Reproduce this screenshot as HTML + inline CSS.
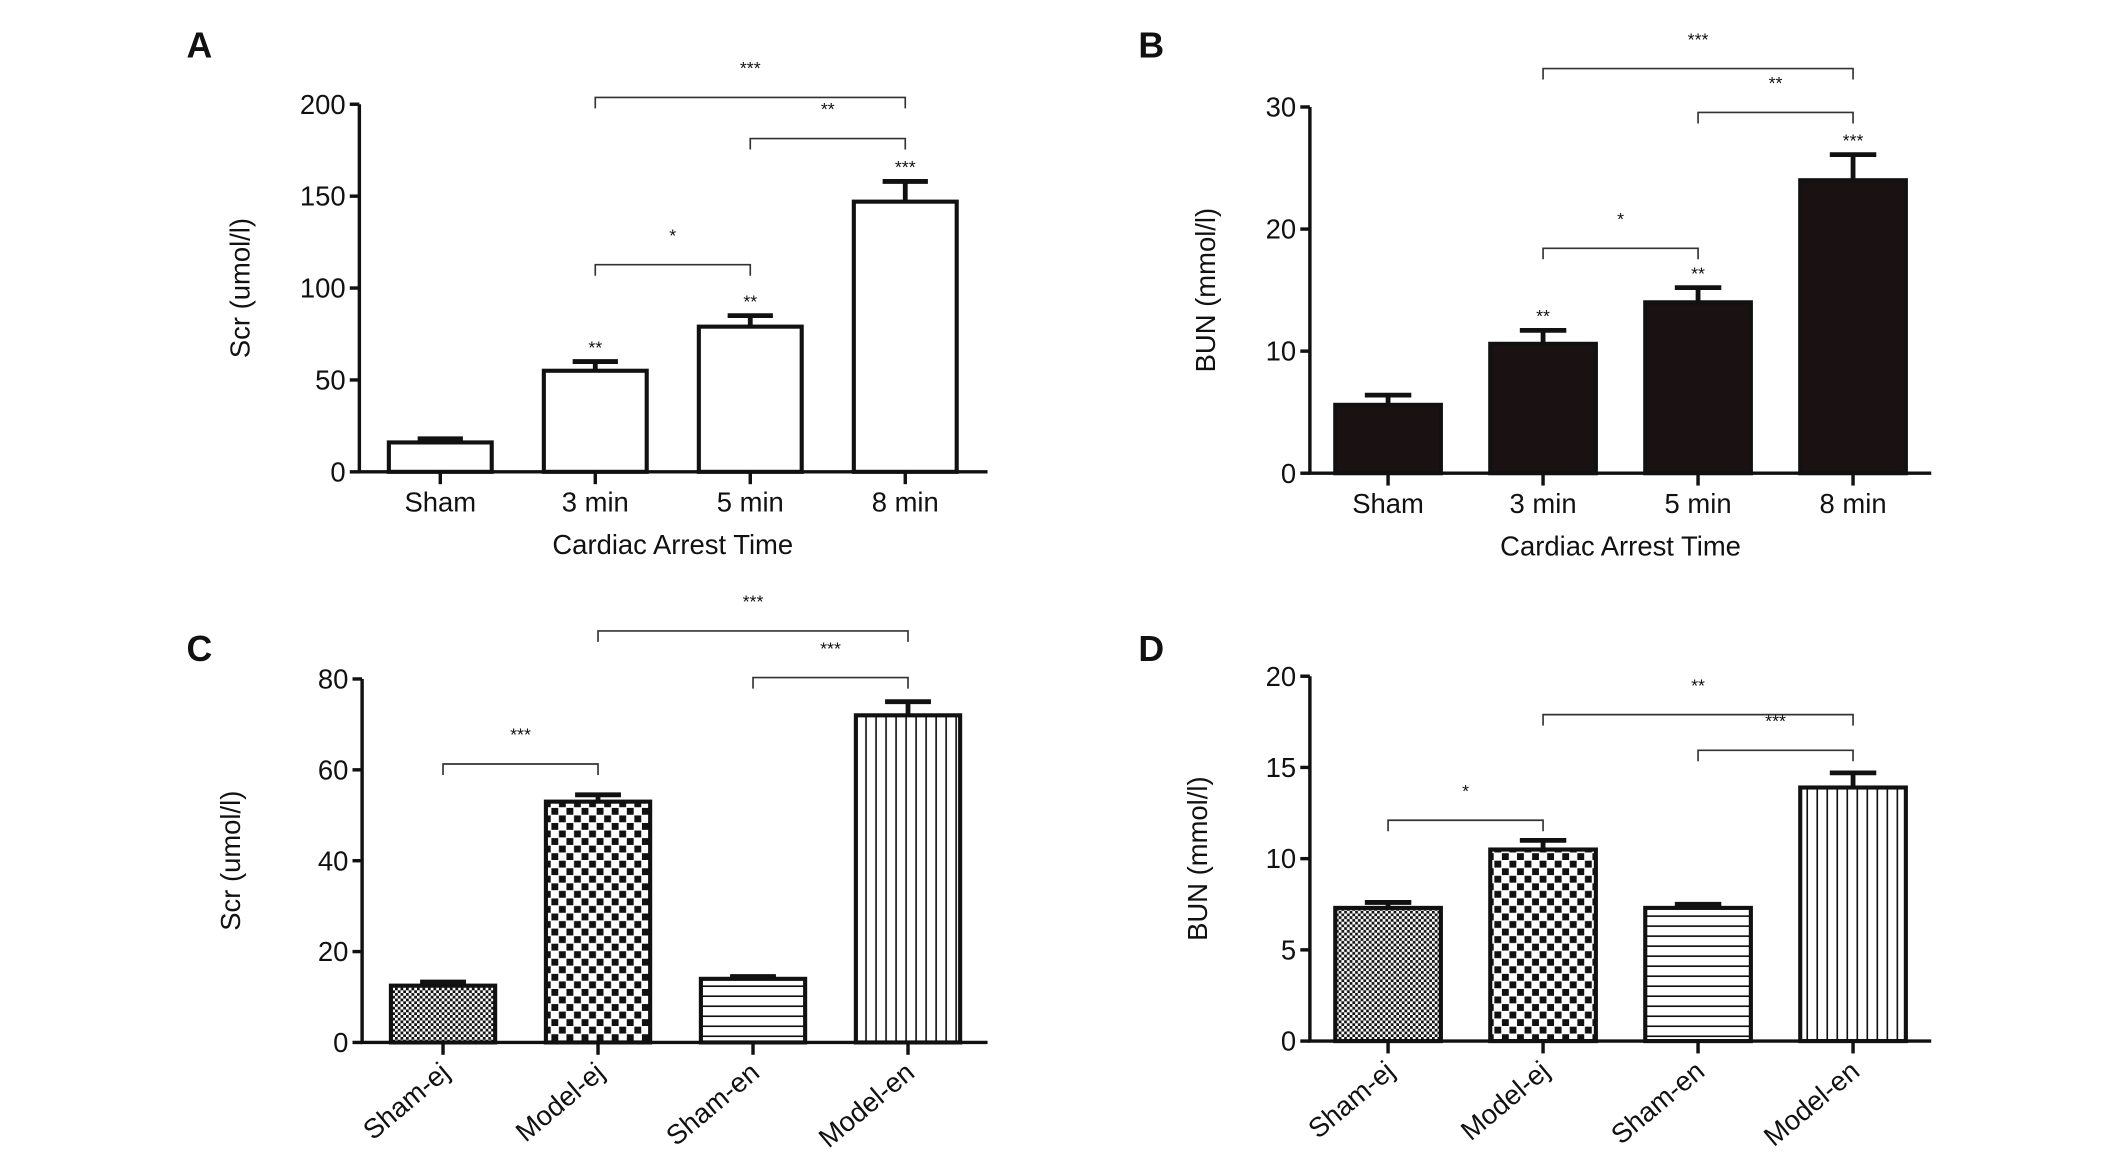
<!DOCTYPE html>
<html><head><meta charset="utf-8"><style>
html,body{margin:0;padding:0;background:#fff}
svg{display:block}
text{font-family:"Liberation Sans",Arial,sans-serif;fill:#111}
</style></head><body>
<svg id="fig" width="2126" height="1160" viewBox="0 0 1550 845.7" preserveAspectRatio="none" xmlns="http://www.w3.org/2000/svg">
<defs>
<pattern id="fineCheck" width="4" height="4" patternUnits="userSpaceOnUse"><rect width="4" height="4" fill="#fff"/><rect width="2" height="2" fill="#111"/><rect x="2" y="2" width="2" height="2" fill="#111"/></pattern>
<pattern id="coarseCheck" width="11" height="11" patternUnits="userSpaceOnUse"><rect width="11" height="11" fill="#fff"/><rect x="0.5" y="0.5" width="5" height="5" fill="#111"/><rect x="6" y="6" width="5" height="5" fill="#111"/></pattern>
<pattern id="hLines" width="8" height="7.3" patternUnits="userSpaceOnUse"><rect width="8" height="7.3" fill="#fff"/><rect y="3" width="8" height="1.2" fill="#111"/></pattern>
<pattern id="vLines" width="7.3" height="8" patternUnits="userSpaceOnUse"><rect width="7.3" height="8" fill="#fff"/><rect x="3" width="1.2" height="8" fill="#111"/></pattern>
</defs>
</svg>
<script>
// Panel A
const catsA = ['Sham','3 min','5 min','8 min'];
const valsA = [16, 55, 79, 147];
const errsA = [2, 5, 6, 11];
const starsA = ['', '**', '**', '***'];
const ticksA = [0, 50, 100, 150, 200];
const bracketsA = [[1,3,'***'],[2,3,'**'],[1,2,'*']];
// Panel B
const catsB = ['Sham','3 min','5 min','8 min'];
const valsB = [5.6, 10.6, 14, 24];
const errsB = [0.8, 1.1, 1.2, 2.1];
const starsB = ['', '**', '**', '***'];
const ticksB = [0, 10, 20, 30];
const bracketsB = [[1,3,'***'],[2,3,'**'],[1,2,'*']];
// Panel C
const catsC = ['Sham-ej','Model-ej','Sham-en','Model-en'];
const valsC = [12.5, 53, 14, 72];
const errsC = [0.8, 1.5, 0.5, 3];
const ticksC = [0, 20, 40, 60, 80];
const bracketsC = [[1,3,'***'],[2,3,'***'],[0,1,'***']];
// Panel D
const catsD = ['Sham-ej','Model-ej','Sham-en','Model-en'];
const valsD = [7.3, 10.5, 7.3, 13.9];
const errsD = [0.3, 0.5, 0.2, 0.8];
const ticksD = [0, 5, 10, 15, 20];
const bracketsD = [[1,3,'**'],[2,3,'***'],[0,1,'*']];

const NS = 'http://www.w3.org/2000/svg';
const svg = document.getElementById('fig');
function mk(tag, attrs, parent){const e=document.createElementNS(NS,tag);for(const k in attrs)e.setAttribute(k,attrs[k]);(parent||svg).appendChild(e);return e;}

function panel(o){
  const g = mk('g',{});
  
  
  const max = o.ticks[o.ticks.length-1];
  const y = v => o.y0 - (o.y0 - o.yTop) * v / max;
  const cx = i => o.firstC + i * o.step;
  const L = mk('text',{x:o.labX,y:o.labY,'font-family':'Liberation Serif','font-weight':'bold','font-size':26},g);
  L.textContent = o.id;
  
  
  o.vals.forEach((v,i)=>{
    const x0 = cx(i) - o.bw/2;
    const r = mk('rect',{x:x0,y:y(v),width:o.bw,height:o.y0-y(v),fill:o.fills[i],stroke:'#111','stroke-width':3},g);
    
    
    const ye = y(v + o.errs[i]);
    const eb = mk('path',{d:`M${cx(i)} ${y(v)}V${ye}M${cx(i)-o.bw*0.22} ${ye}H${cx(i)+o.bw*0.22}`,stroke:'#111','stroke-width':3.5,fill:'none'},g);
    
    
    if (o.stars && o.stars[i]) {
      const s = mk('text',{x:cx(i),y:ye-6,'text-anchor':'middle','font-size':13},g);
      s.textContent = o.stars[i];
      
      
    }
  });
  const ax = mk('path',{d:`M${o.ax} ${o.yTop}V${o.y0}H${o.xEnd}`,stroke:'#111','stroke-width':2.5,fill:'none'},g);
  
  
  o.ticks.forEach(t=>{
    mk('line',{x1:o.ax-7,x2:o.ax,y1:y(t),y2:y(t),stroke:'#111','stroke-width':2.5},g);
    const tl = mk('text',{x:o.ax-10,y:y(t)+7,'text-anchor':'end','font-size':20},g);
    tl.textContent = t;
    
    
  });
  o.cats.forEach((c,i)=>{
    mk('line',{x1:cx(i),x2:cx(i),y1:o.y0,y2:o.y0+9,stroke:'#111','stroke-width':2.5},g);
    let t;
    if (o.rot) {
      t = mk('text',{x:cx(i)+6,y:o.y0+24,'text-anchor':'end','font-size':20,transform:`rotate(-40 ${cx(i)+6} ${o.y0+24})`},g);
    } else {
      t = mk('text',{x:cx(i),y:o.y0+29,'text-anchor':'middle','font-size':20},g);
    }
    t.textContent = c;
    
    
  });
  if (o.xTitle) {
    const xt = mk('text',{x:cx(1.5),y:o.y0+60,'text-anchor':'middle','font-size':20,'xml:space':'preserve'},g);
    xt.textContent = 'Cardiac  Arrest   Time';
    
    
  }
  const yt = mk('text',{x:o.ytX,y:(o.y0+o.yTop)/2,'text-anchor':'middle','font-size':20,transform:`rotate(-90 ${o.ytX} ${(o.y0+o.yTop)/2})`,'xml:space':'preserve'},g);
  yt.textContent = o.yTitle;
  
  
  o.brackets.forEach((b,k)=>{
    const by = o.bY[k];
    const p = mk('path',{d:`M${cx(b[0])} ${by+8}V${by}H${cx(b[1])}V${by+8}`,stroke:'#333','stroke-width':1.2,fill:'none'},g);
    
    
    const s = mk('text',{x:(cx(b[0])+cx(b[1]))/2,y:by-17,'text-anchor':'middle','font-size':13},g);
    s.textContent = b[2];
    
    
  });
}
panel({id:'A',labX:136,labY:42,cats:catsA,vals:valsA,errs:errsA,stars:starsA,ticks:ticksA,brackets:bracketsA,bY:[71,101,193],
  ax:262,y0:344,yTop:76,xEnd:720,firstC:321,step:113,bw:75,fills:['#fff','#fff','#fff','#fff'],xTitle:true,yTitle:'Scr  (umol/l)',ytX:182});
panel({id:'B',labX:830,labY:42,cats:catsB,vals:valsB,errs:errsB,stars:starsB,ticks:ticksB,brackets:bracketsB,bY:[50,82,181],
  ax:955,y0:345,yTop:78,xEnd:1408,firstC:1012,step:113,bw:77,fills:['#1a1212','#1a1212','#1a1212','#1a1212'],xTitle:true,yTitle:'BUN  (mmol/l)',ytX:886});
panel({id:'C',labX:136,labY:482,cats:catsC,vals:valsC,errs:errsC,ticks:ticksC,brackets:bracketsC,bY:[460,494,557],
  ax:264,y0:760,yTop:495,xEnd:720,firstC:323,step:113,bw:76,fills:['url(#fineCheck)','url(#coarseCheck)','url(#hLines)','url(#vLines)'],rot:true,yTitle:'Scr  (umol/l)',ytX:175});
panel({id:'D',labX:830,labY:482,cats:catsD,vals:valsD,errs:errsD,ticks:ticksD,brackets:bracketsD,bY:[521,547,598],
  ax:955,y0:759,yTop:493,xEnd:1408,firstC:1012,step:113,bw:77,fills:['url(#fineCheck)','url(#coarseCheck)','url(#hLines)','url(#vLines)'],rot:true,yTitle:'BUN  (mmol/l)',ytX:880});
</script>
</body></html>
